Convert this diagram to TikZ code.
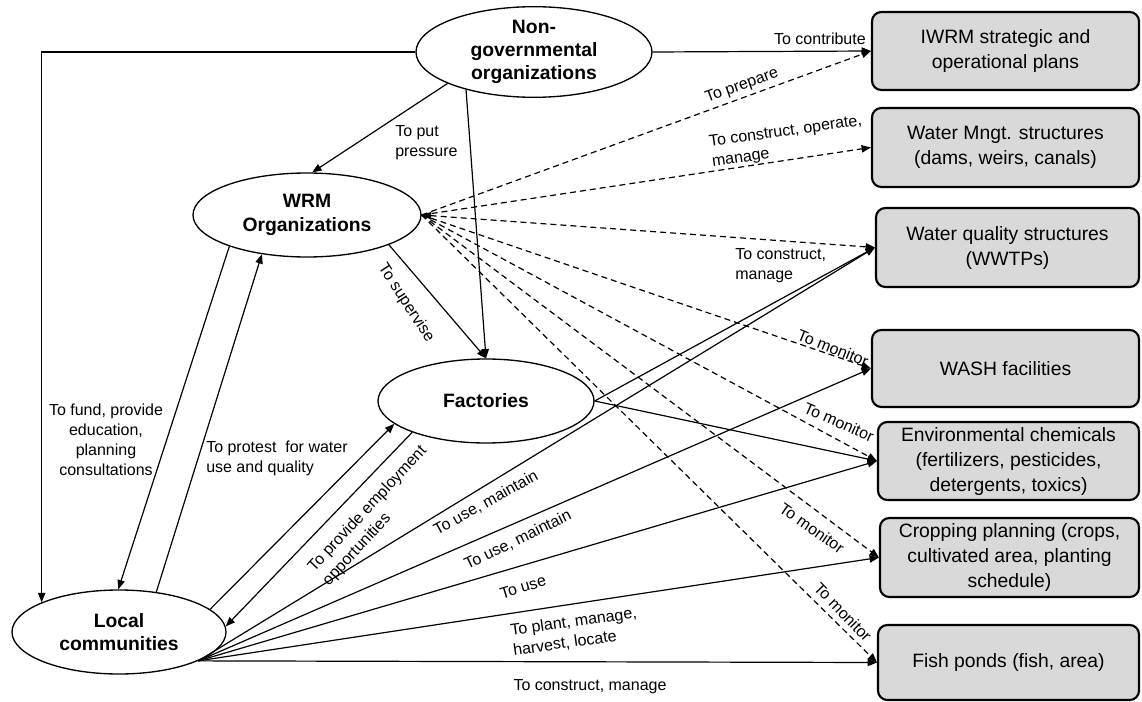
\documentclass[tikz,border=0pt]{standalone}
\usepackage{fontspec}
\setmainfont{Liberation Sans}
\usetikzlibrary{shapes.geometric,arrows.meta}
\definecolor{boxgray}{HTML}{D9D9D9}
\begin{document}
\begin{tikzpicture}[x=0.75pt,y=-0.75pt,
  ell/.style={ellipse, draw, line width=1pt, align=center, inner sep=0pt,
    minimum height=63pt, font=\bfseries\fontsize{14.5}{17.5}\selectfont},
  box/.style={rectangle, rounded corners=7pt, draw, line width=1.6pt, fill=boxgray,
    align=center, inner sep=0pt, font=\fontsize{14.5}{18.75}\selectfont},
  lbl/.style={inner sep=0pt, align=center, font=\fontsize{12}{15}\selectfont},
  arr/.style={line width=0.9pt, -{Triangle[length=7pt,width=5.5pt]}},
  darr/.style={arr, dash pattern=on 4.5pt off 3pt}]
\fill[white] (0,0) rectangle (1142,702);
\useasboundingbox (0,0) rectangle (1142,702);

% actors
\node[ell, minimum width=177pt]   (ngo) at (534,52)  {Non-\\governmental\\organizations};
\node[ell, minimum width=171pt]   (wrm) at (307,215) {WRM\\Organizations};
\node[ell, minimum width=162pt]   (fac) at (486,401) {Factories};
\node[ell, minimum width=160.5pt] (lc)  at (119,632) {Local\\communities};

% managed items
\node[box, minimum width=200.25pt, minimum height=58.5pt]  (iwrm) at (1005.5,51)    {IWRM strategic and\\operational plans};
\node[box, minimum width=200.25pt, minimum height=59.25pt] (wms)  at (1005.5,147.5) {Water Mngt. structures\\(dams, weirs, canals)};
\node[box, minimum width=197.25pt, minimum height=59.25pt] (wqs)  at (1007.5,247.5) {Water quality structures\\(WWTPs)};
\node[box, minimum width=200.25pt, minimum height=57.75pt] (wash) at (1005.5,368.5) {WASH facilities};
\node[box, minimum width=195.75pt, minimum height=58.5pt]  (env)  at (1008.5,461)   {Environmental chemicals\\(fertilizers, pesticides,\\detergents, toxics)};
\node[box, minimum width=194.25pt, minimum height=59.25pt] (crop) at (1009.5,557.5) {Cropping planning (crops,\\cultivated area, planting\\schedule)};
\node[box, minimum width=195.75pt, minimum height=56.25pt] (fish) at (1008.5,662.5) {Fish ponds (fish, area)};

% relations between actors
\draw[arr] (ngo.west) -| (lc.159);
\draw[arr] (ngo.east) -- (iwrm.west);
\draw[arr] (ngo.200) -- (wrm.83);
\draw[arr] (ngo.209) -- (fac.north);
\draw[arr] (wrm.-20) -- (fac.north);
\draw[arr] (wrm.202) -- (lc.91);
\draw[arr] (lc.47) -- (wrm.221);
\draw[arr] (fac.203) -- (lc.3);
\draw[arr] (lc.14) -- (fac.194);

% factories and communities to items
\draw[arr] (fac.east) -- (wqs.west);
\draw[arr] (fac.east) -- (env.west);
\foreach \b in {wqs,wash,env,crop,fish}
  \draw[arr] (lc.-20) -- (\b.west);

% WRM organizations to items
\foreach \b in {iwrm,wms,wash,env,crop,fish}
  \draw[darr] (wrm.east) -- (\b.west);
\draw[darr, {Triangle[length=7pt,width=5.5pt]}-{Triangle[length=7pt,width=5.5pt]}] (wrm.east) -- (wqs.west);

% labels
\node[lbl, anchor=east] (lcontrib) at (866,39) {To contribute};
\node[lbl, rotate=20] (lprep) at (742,86) {To prepare};
\node[lbl, rotate=8, align=left] (lcom) at (787,142) {To construct, operate,\\manage};
\node[lbl, align=left, anchor=west] (lcm) at (735,266) {To construct,\\manage};
\node[lbl, rotate=-22] (lmon1) at (833,348) {To monitor};
\node[lbl, rotate=-24] (lmon2) at (839,422) {To monitor};
\node[lbl, rotate=-35] (lmon3) at (812,528) {To monitor};
\node[lbl, rotate=-46] (lmon4) at (843,612) {To monitor};
\node[lbl, align=left, anchor=west] (lpress) at (395,143) {To put\\pressure};
\node[lbl, rotate=-57] (lsup) at (406,303) {To supervise};
\node[lbl] (lfund) at (106,440) {To fund, provide\\education,\\planning\\consultations};
\node[lbl, align=left, anchor=west] (lprot) at (206,458) {To protest\ \ for water\\use and quality};
\node[lbl, rotate=47, align=left] (lemp) at (375,516) {To provide employment\\opportunities};
\node[lbl, rotate=29] (luse1) at (486,503) {To use, maintain};
\node[lbl, rotate=26] (luse2) at (518,540) {To use, maintain};
\node[lbl, rotate=17] (luse3) at (523,587) {To use};
\node[lbl, rotate=8, align=left] (lplant) at (575,632) {To plant, manage,\\harvest, locate};
\node[lbl] (lcons) at (590,687) {To construct, manage};
\end{tikzpicture}
\end{document}
